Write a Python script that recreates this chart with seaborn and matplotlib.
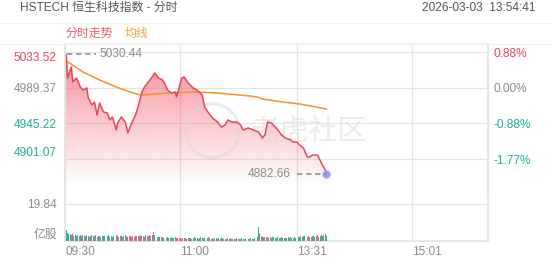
import numpy as np
import matplotlib
matplotlib.use("Agg")
import matplotlib.pyplot as plt
import matplotlib.colors as mcolors
import seaborn as sns

# ---------------- data ----------------
title = "HSTECH 恒生科技指数 - 分时"
timestamp = "2026-03-03  13:54:41"
prev_close = 4989.37
price_ticks = [5033.52, 4989.37, 4945.22, 4901.07]
pct_labels = ["0.88%", "0.00%", "-0.88%", "-1.77%"]
time_ticks = [0, 90, 181, 271]
time_labels = ["09:30", "11:00", "13:31", "15:01"]
vol_tick = 19.84
n_minutes = 330

price_min = [0, 1, 2, 4, 5, 6, 9, 12, 14, 17, 18, 21, 23, 25, 27, 30, 33, 35, 37,
             40, 41, 44, 47, 49, 52, 55, 57, 60, 62, 65, 68, 70, 73, 76, 78, 80,
             83, 86, 87, 89, 91, 93, 96, 100, 103, 107, 109, 112, 115, 119, 122,
             125, 127, 130, 134, 137, 139, 143, 147, 151, 154, 156, 158, 161, 164,
             166, 169, 172, 176, 178, 181, 183, 186, 189, 191, 193, 197, 200, 203, 204]
price_val = [5027.3, 5030.44, 5001.3, 5011.2, 5014.9, 4996.4, 5001.3, 4990.2, 4986.5,
             4989.0, 4977.8, 4967.9, 4971.6, 4955.5, 4970.4, 4959.3, 4958.0, 4949.4,
             4953.1, 4937.0, 4945.6, 4953.1, 4946.9, 4933.3, 4945.6, 4955.5, 4965.4,
             4984.0, 4990.2, 4996.4, 5002.6, 5007.5, 5001.3, 4998.9, 4993.9, 4986.5,
             4982.8, 4984.0, 4977.8, 4989.0, 5001.3, 5002.6, 4995.2, 4989.0, 4986.5,
             4980.3, 4965.4, 4958.0, 4951.8, 4946.9, 4940.7, 4943.2, 4949.4, 4946.9,
             4946.9, 4943.2, 4937.0, 4939.5, 4937.0, 4934.5, 4927.1, 4930.8, 4946.9,
             4945.6, 4940.7, 4937.0, 4930.8, 4927.1, 4924.6, 4922.1, 4922.1, 4918.4,
             4914.7, 4903.6, 4903.6, 4906.0, 4906.0, 4896.1, 4887.5, 4882.66]

avg_min = [0, 14, 27, 40, 53, 59, 66, 80, 100, 119, 144, 150, 154, 170, 183, 204]
avg_val = [5023.6, 5008.8, 4998.9, 4990.2, 4982.8, 4980.3, 4980.9, 4982.8, 4984.0,
           4982.8, 4979.1, 4977.8, 4975.3, 4971.6, 4969.2, 4963.0]

volume = [
    28.0, 5.8, 4.2, 3.6, 4.0, 3.1, 3.5, 2.9, 3.3, 2.7,
    3.0, 2.6, 3.4, 2.8, 3.1, 2.5, 2.9, 3.2, 2.6, 2.4,
    2.8, 3.0, 2.5, 2.7, 3.3, 2.4, 2.6, 2.9, 2.3, 2.7,
    2.5, 2.8, 2.2, 2.6, 3.0, 2.4, 2.7, 2.3, 2.5, 2.9,
    3.1, 2.6, 2.4, 2.8, 2.5, 2.2, 2.7, 3.2, 2.6, 2.4,
    2.8, 2.5, 2.3, 2.7, 2.4, 2.6, 2.9, 2.5, 2.7, 3.0,
    2.6, 2.8, 2.4, 3.1, 2.7, 2.9, 3.3, 2.6, 3.0, 4.7,
    3.4, 2.5, 2.2, 2.0, 2.3, 1.9, 2.1, 1.8, 2.0, 1.7,
    1.9, 1.6, 1.8, 2.2, 1.7, 1.5, 1.9, 1.6, 1.4, 1.8,
    1.5, 1.3, 1.7, 1.4, 1.6, 1.2, 1.5, 1.8, 1.4, 1.3,
    1.6, 1.9, 1.5, 1.7, 1.3, 1.6, 2.0, 1.4, 1.8, 1.5,
    1.7, 1.4, 1.9, 1.6, 1.3, 1.5, 1.2, 1.4, 1.7, 1.3,
    1.5, 1.1, 1.4, 1.6, 1.2, 1.0, 1.3, 1.5, 1.1, 1.4,
    1.2, 1.0, 1.3, 1.1, 1.5, 0.9, 1.2, 1.0, 1.4, 1.1,
    1.3, 1.0, 1.6, 1.2, 1.1, 1.4, 1.0, 1.3, 1.6, 1.9,
    2.2, 7.6, 4.1, 2.6, 2.3, 2.0, 2.4, 1.9, 2.1, 1.8,
    2.0, 1.7, 1.9, 2.2, 1.6, 1.8, 2.0, 1.7, 1.5, 1.9,
    1.6, 1.8, 1.4, 1.7, 2.0, 1.6, 1.9, 1.5, 1.8, 2.1,
    1.7, 2.0, 2.3, 1.9, 2.6, 2.2, 2.5, 2.8, 2.1, 2.4,
    2.7, 2.3, 2.0, 2.6, 2.9, 2.2, 2.5, 3.1, 2.4, 2.8,
    3.4, 2.7, 3.0, 3.6, 2.9,
]
vol_dir = ("uddduddudd" "duuddudddu" "udduddudud" "dduddudddu" "duuududdud"
           "uuuduuudud" "uuduuududu" "dduddudddu" "ddduddduuu" "uuududdudu"
           "ddudduddud" "dduddudddu" "dudduuudud" "uddudduddd" "uddudduddu"
           "ddudduuduu" "duddudddud" "ddudddudud" "duddudddud" "uududdudud"
           "ddudd")

# ---------------- style ----------------
sns.set_theme(style="white")
plt.rcParams["font.family"] = ["Liberation Sans", "Noto Sans CJK SC", "DejaVu Sans"]

RED = "#e8455d"
TEAL = "#1fae9b"
GRAY = "#8c8c8c"
ORANGE = "#f5912c"
GRID = "#e4e4e4"
FS = 8.6

W, H = 552, 265
fig = plt.figure(figsize=(W / 100, H / 100), dpi=100)
fig.patch.set_facecolor("white")

# px geometry
x_left, x_right = 65, 488
y_top, y_mid, y_bot = 44, 186, 241
px_per_price = 35.67 / 44.15

axm = fig.add_axes([x_left / W, (H - y_mid) / H, (x_right - x_left) / W, (y_mid - y_top) / H])
axv = fig.add_axes([x_left / W, (H - y_bot) / H, (x_right - x_left) / W, (y_bot - y_mid) / H])

ytop_val = price_ticks[0] + (52 - y_top) / px_per_price
ybot_val = price_ticks[0] - (y_mid - 52) / px_per_price

# ---- gradient fill under price ----
poly = axm.fill_between(price_min, price_val, ybot_val, color="none", lw=0)
rgb = mcolors.to_rgb("#f2586a")
grad = np.zeros((256, 1, 4))
grad[:, 0, 0], grad[:, 0, 1], grad[:, 0, 2] = rgb
grad[:, 0, 3] = np.linspace(0.72, 0.0, 256)
im = axm.imshow(grad, extent=[0, n_minutes, ybot_val, ytop_val], aspect="auto",
                origin="upper", zorder=1, interpolation="bilinear")
im.set_clip_path(poly.get_paths()[0], transform=axm.transData)

sns.lineplot(x=price_min, y=price_val, ax=axm, color=RED, lw=1.1, estimator=None,
             sort=False, zorder=4)
sns.lineplot(x=avg_min, y=avg_val, ax=axm, color=ORANGE, lw=1.1, estimator=None,
             sort=False, zorder=3)

# last point dot
axm.scatter([price_min[-1]], [price_val[-1]], s=28, color="#8e8cf2", alpha=0.85,
            edgecolor="#a9a7f5", lw=0.8, zorder=6)

# max / min annotations
imax = int(np.argmax(price_val))
imin = int(np.argmin(price_val))
axm.plot([price_min[imax] + 0.5, price_min[imax] + 23], [price_val[imax]] * 2,
         ls=(0, (3, 2)), color="#9a9a9a", lw=1.3, zorder=5)
axm.text(price_min[imax] + 26, price_val[imax], f"{price_val[imax]:.2f}",
         ha="left", va="center", color=GRAY, fontsize=FS, zorder=6)
axm.plot([price_min[imin] - 23, price_min[imin]], [price_val[imin]] * 2,
         ls=(0, (3, 2)), color="#9a9a9a", lw=1.3, zorder=5)
axm.text(price_min[imin] - 28, price_val[imin], f"{price_val[imin]:.2f}",
         ha="right", va="center", color=GRAY, fontsize=FS, zorder=6)

# watermark
axm.scatter([115], [4936.0], s=1500, facecolor="none", edgecolor="#d9d9d9",
            lw=2.2, alpha=0.5, zorder=2)
axm.text(144, 4934.5, "老虎社区", ha="left", va="center", fontsize=21,
         color="#d9d9d9", alpha=0.5, zorder=2)

axm.set_xlim(0, n_minutes)
axm.set_ylim(ybot_val, ytop_val)
axm.set_yticks(price_ticks)
axm.set_yticklabels([f"{v:.2f}" for v in price_ticks])
axm.set_xticks(time_ticks)
axm.tick_params(axis="both", length=0, labelbottom=False, labelsize=FS, pad=5.8)
axm.grid(True, color=GRID, lw=0.9)
axm.set_xlabel("")
axm.set_ylabel("")
for lab, v in zip(axm.get_yticklabels(), price_ticks):
    if v > prev_close + 0.01:
        lab.set_color(RED)
    elif v < prev_close - 0.01:
        lab.set_color(TEAL)
    else:
        lab.set_color(GRAY)
labs = axm.get_yticklabels()
labs[0].set_va("top")
labs[-1].set_va("bottom")

axr = axm.twinx()
axr.set_ylim(ybot_val, ytop_val)
axr.set_yticks(price_ticks)
axr.set_yticklabels(pct_labels)
axr.tick_params(axis="y", length=0, labelsize=FS, pad=4)
rl = axr.get_yticklabels()
for lab, v in zip(rl, price_ticks):
    if v > prev_close + 0.01:
        lab.set_color(RED)
    elif v < prev_close - 0.01:
        lab.set_color(TEAL)
    else:
        lab.set_color(GRAY)

for a in (axm, axr):
    a.spines["bottom"].set_visible(False)
    a.spines["top"].set_color("#eeeeee")
    a.spines["left"].set_color(GRID)
    a.spines["right"].set_color(GRID)

# ---- volume ----
vol_x = np.arange(len(volume))
vol_colors = ["#f0607a" if d == "u" else "#27b7a2" for d in vol_dir]
axv.bar(vol_x, volume, width=0.75, color=vol_colors, lw=0, zorder=3)
axv.set_xlim(0, n_minutes)
axv.set_ylim(0, (y_bot - y_mid) / (37.0 / vol_tick))
axv.set_yticks([0, vol_tick])
axv.set_yticklabels(["亿股", f"{vol_tick:.2f}"])
axv.set_xticks(time_ticks)
axv.set_xticklabels(time_labels)
axv.tick_params(axis="y", length=0, labelsize=FS, pad=5.8, colors=GRAY)
axv.tick_params(axis="x", length=0, labelsize=FS, pad=3.5, colors=GRAY)
for lab in axv.get_xticklabels():
    lab.set_ha("left")
axv.get_yticklabels()[0].set_va("bottom")
axv.grid(True, color=GRID, lw=0.9)
axv.spines["top"].set_visible(False)
for s in ("left", "right", "bottom"):
    axv.spines[s].set_color(GRID)

# ---- header ----
fig.text(20 / W, 1 - 8 / H, title, ha="left", va="center", fontsize=FS, color="#555555")
fig.text(536 / W, 1 - 8 / H, timestamp, ha="right", va="center", fontsize=FS, color="#555555")
fig.text(65 / W, 1 - 34 / H, "分时走势", ha="left", va="center", fontsize=FS, color="#ec5a70")
fig.text(125 / W, 1 - 34 / H, "均线", ha="left", va="center", fontsize=FS, color="#f5a23c")
fig.add_artist(plt.Line2D([0, 1], [1 - 23 / H] * 2, color="#f2f2f2", lw=0.8))
fig.add_artist(plt.Line2D([0, 1], [1 - 44 / H] * 2, color="#f0f0f0", lw=0.8))

fig.savefig("out.png", dpi=100, facecolor="white")
